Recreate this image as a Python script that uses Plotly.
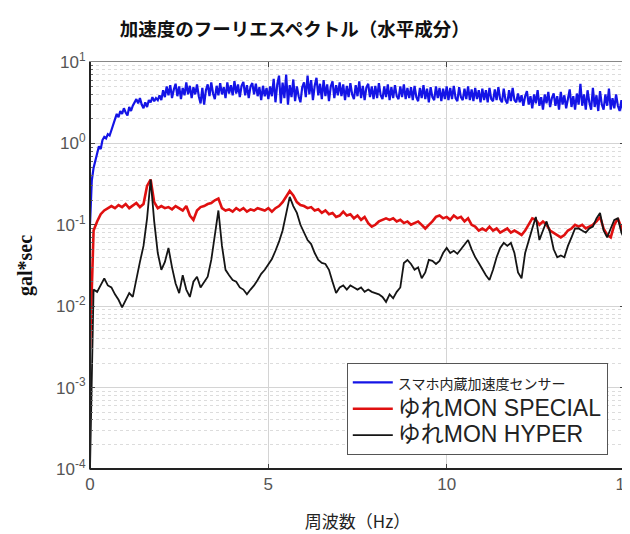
import numpy as np
import plotly.graph_objects as go

# Frequency axes (Hz)
freq_blue = [round(i * 0.05, 2) for i in range(301)]
freq_mon = [round(i * 0.1, 1) for i in range(151)]

# スマホ内蔵加速度センサー (gal*sec)
smartphone = [
    0.1, 0.35, 0.5, 0.62, 0.75, 0.92, 0.85, 1.1, 1.2, 1.15, 1.3, 1.25, 1.45, 1.7, 2.0, 2.3, 2.1, 2.5, 2.3, 2.7,
    2.4, 2.2, 2.8, 2.5, 2.9, 3.2, 3.5, 3.1, 3.6, 3.0, 2.7, 3.2, 2.8, 3.4, 3.2, 3.7, 3.3, 3.6, 3.4, 3.9,
    3.4, 4.5, 3.7, 5.0, 3.9, 5.2, 3.6, 4.6, 5.4, 3.8, 5.0, 3.5, 4.8, 3.9, 5.6, 4.0, 5.1, 3.6, 4.9, 4.0,
    5.3, 3.8, 3.1, 4.8, 3.0, 4.5, 5.3, 3.8, 5.6, 4.1, 3.5, 5.1, 3.9, 5.5, 4.0, 4.9, 3.6, 5.6, 4.1, 5.2,
    3.9, 5.8, 4.1, 5.3, 3.7, 5.1, 5.7, 3.9, 5.2, 3.6, 5.0, 5.5, 4.0, 5.4, 3.8, 4.9, 3.4, 5.1, 3.8, 4.8,
    3.5, 5.0, 3.8, 6.2, 3.2, 5.3, 6.8, 3.1, 5.6, 3.6, 7.0, 3.0, 5.2, 3.7, 6.1, 3.3, 5.0, 3.8, 3.2, 4.9,
    5.6, 3.7, 6.8, 4.0, 6.0, 3.4, 5.1, 6.4, 3.9, 5.4, 3.5, 6.0, 3.8, 5.3, 3.3, 5.0, 5.8, 3.6, 5.2, 3.9,
    5.6, 3.8, 5.3, 3.4, 5.1, 3.7, 5.5, 4.0, 3.5, 5.2, 3.8, 5.8, 3.6, 5.1, 3.4, 4.9, 5.4, 3.7, 5.0, 3.5,
    5.1, 3.6, 5.5, 3.9, 3.5, 5.0, 3.7, 5.3, 3.4, 4.9, 3.6, 5.2, 3.8, 3.5, 5.0, 3.7, 5.3, 3.5, 4.8, 3.6,
    4.9, 3.4, 5.1, 3.7, 3.3, 4.8, 3.6, 5.2, 3.5, 4.7, 3.2, 4.9, 3.7, 3.4, 5.0, 3.6, 4.8, 3.3, 4.7, 3.5,
    5.0, 3.4, 4.8, 3.5, 5.1, 3.6, 3.3, 4.9, 3.7, 3.4, 4.7, 3.5, 5.0, 3.4, 4.6, 3.3, 4.8, 3.5, 4.5, 3.2,
    4.7, 3.4, 4.5, 3.2, 4.8, 3.5, 3.3, 4.6, 3.4, 4.9, 3.5, 3.2, 4.7, 3.4, 3.1, 4.5, 3.3, 4.8, 3.4, 3.2,
    4.1, 3.2, 3.9, 2.9, 3.8, 4.4, 3.0, 3.8, 2.7, 4.0, 3.1, 4.5, 2.9, 3.7, 2.6, 4.0, 3.1, 4.3, 2.8, 3.6,
    4.1, 2.9, 3.8, 2.6, 4.3, 3.0, 3.9, 2.7, 3.6, 4.6, 2.8, 3.8, 2.6, 4.1, 3.0, 5.4, 2.9, 4.0, 2.6, 4.5,
    3.2, 2.6, 4.8, 2.8, 3.9, 2.5, 4.4, 3.0, 2.6, 4.0, 2.9, 4.7, 2.6, 3.6, 2.7, 4.0, 2.9, 2.5, 3.4, 2.4,
    2.3,
]

# ゆれMON SPECIAL (gal*sec)
special = [
    0.003, 0.085, 0.11, 0.135, 0.15, 0.16, 0.17, 0.16, 0.175, 0.165,
    0.18, 0.16, 0.17, 0.185, 0.165, 0.18, 0.3, 0.36, 0.19, 0.16,
    0.17, 0.16, 0.165, 0.155, 0.17, 0.16, 0.15, 0.17, 0.13, 0.115,
    0.15, 0.165, 0.17, 0.18, 0.185, 0.2, 0.21, 0.16, 0.15, 0.155,
    0.145, 0.16, 0.15, 0.16, 0.145, 0.155, 0.15, 0.16, 0.155, 0.15,
    0.16, 0.145, 0.16, 0.17, 0.19, 0.22, 0.26, 0.23, 0.19, 0.175,
    0.17, 0.16, 0.165, 0.15, 0.155, 0.14, 0.15, 0.135, 0.14, 0.125,
    0.13, 0.145, 0.13, 0.135, 0.12, 0.13, 0.115, 0.125, 0.105, 0.095,
    0.1, 0.11, 0.115, 0.12, 0.115, 0.12, 0.11, 0.115, 0.105, 0.11,
    0.1, 0.105, 0.11, 0.1, 0.09, 0.1, 0.11, 0.125, 0.13, 0.12,
    0.125, 0.115, 0.13, 0.12, 0.125, 0.11, 0.12, 0.1, 0.095, 0.085,
    0.09, 0.085, 0.095, 0.085, 0.09, 0.08, 0.085, 0.09, 0.08, 0.085,
    0.08, 0.075, 0.085, 0.1, 0.12, 0.115, 0.1, 0.11, 0.1, 0.085,
    0.08, 0.075, 0.07, 0.075, 0.085, 0.09, 0.1, 0.095, 0.1, 0.09,
    0.095, 0.1, 0.11, 0.125, 0.09, 0.075, 0.07, 0.1, 0.12, 0.09,
    0.07,
]

# ゆれMON HYPER (gal*sec)
hyper = [
    0.0001, 0.016, 0.015, 0.018, 0.022, 0.018, 0.017, 0.014, 0.012, 0.0097,
    0.012, 0.0145, 0.013, 0.022, 0.035, 0.055, 0.12, 0.36, 0.11, 0.045,
    0.028, 0.035, 0.052, 0.03, 0.019, 0.0145, 0.024, 0.016, 0.013, 0.02,
    0.023, 0.017, 0.02, 0.023, 0.037, 0.08, 0.15, 0.055, 0.028, 0.024,
    0.021, 0.02, 0.017, 0.016, 0.014, 0.016, 0.018, 0.021, 0.025, 0.028,
    0.033, 0.038, 0.048, 0.062, 0.085, 0.14, 0.22, 0.17, 0.14, 0.1,
    0.08, 0.065, 0.058, 0.045, 0.037, 0.034, 0.033, 0.028, 0.02, 0.0145,
    0.017, 0.018, 0.016, 0.018, 0.017, 0.016, 0.017, 0.015, 0.016, 0.015,
    0.0145, 0.014, 0.013, 0.0113, 0.014, 0.0125, 0.015, 0.017, 0.034, 0.037,
    0.033, 0.028, 0.03, 0.022, 0.026, 0.037, 0.036, 0.033, 0.036, 0.045,
    0.052, 0.045, 0.048, 0.044, 0.05, 0.058, 0.065, 0.05, 0.04, 0.034,
    0.028, 0.024, 0.021, 0.028, 0.04, 0.052, 0.06, 0.055, 0.06, 0.045,
    0.026, 0.022, 0.045, 0.065, 0.09, 0.125, 0.065, 0.085, 0.11, 0.08,
    0.05, 0.04, 0.042, 0.04, 0.055, 0.07, 0.09, 0.09, 0.085, 0.08,
    0.09, 0.095, 0.12, 0.14, 0.085, 0.07, 0.09, 0.115, 0.12, 0.08,
    0.065,
]

x_ticks = [0, 5, 10, 15]
y_ticks = [1e-4, 1e-3, 1e-2, 1e-1, 1e0, 1e1]
y_ticktext = ["10<sup>-4</sup>", "10<sup>-3</sup>", "10<sup>-2</sup>",
              "10<sup>-1</sup>", "10<sup>0</sup>", "10<sup>1</sup>"]

fig = go.Figure()
fig.add_trace(go.Scatter(
    x=freq_blue, y=smartphone, mode="lines",
    name='<span style="font-size:14px">スマホ内蔵加速度センサー</span>',
    line=dict(color="#1414e6", width=2.2),
))
fig.add_trace(go.Scatter(
    x=freq_mon, y=special, mode="lines",
    name='<span style="font-size:23px">ゆれMON SPECIAL</span>',
    line=dict(color="#e01010", width=2.6),
))
fig.add_trace(go.Scatter(
    x=freq_mon, y=hyper, mode="lines",
    name='<span style="font-size:23px">ゆれMON HYPER</span>',
    line=dict(color="#151515", width=1.8),
))

tick_font = dict(family="Liberation Sans, Arial, sans-serif", size=17, color="#555555")

fig.update_layout(
    width=622, height=526,
    margin=dict(l=82, r=5, t=54, b=65, autoexpand=False),
    paper_bgcolor="white", plot_bgcolor="white",
    title=dict(
        text="<b>加速度のフーリエスペクトル（水平成分）</b>",
        x=0.461, xanchor="center", y=0.96, yanchor="middle",
        font=dict(family="Noto Sans CJK JP", size=18.5, color="#111111"),
    ),
    legend=dict(
        x=0.48, y=0.26, xanchor="left", yanchor="top",
        bgcolor="white", bordercolor="#555555", borderwidth=1,
        font=dict(family="Liberation Sans, Noto Sans CJK JP, sans-serif", size=18, color="#222222"),
        itemwidth=40, tracegroupgap=0,
    ),
    xaxis=dict(
        range=[0, 15], tickvals=x_ticks, ticktext=[str(v) for v in x_ticks],
        automargin=False, ticklabeloverflow="allow",
        showgrid=True, gridcolor="#d4d4d4", gridwidth=1,
        showline=True, linecolor="#888888", linewidth=1, mirror="ticks",
        ticks="inside", ticklen=5, tickcolor="#444444",
        tickfont=tick_font, zeroline=False,
        title=dict(text="周波数（Hz）", standoff=22,
                   font=dict(family="Noto Sans CJK JP", size=17, color="#222222")),
    ),
    yaxis=dict(
        type="log", range=[-4, 1], tickvals=y_ticks, ticktext=y_ticktext,
        automargin=False,
        showgrid=True, gridcolor="#d4d4d4", gridwidth=1,
        showline=True, linecolor="#888888", linewidth=1, mirror="ticks",
        ticks="inside", ticklen=5, tickcolor="#444444",
        tickfont=tick_font, zeroline=False,
        minor=dict(dtick="D1", showgrid=True, gridcolor="#dcdcdc", griddash="dot",
                   ticks="inside", ticklen=3, tickcolor="#666666"),
        title=dict(text="<b>gal*sec</b>", standoff=18,
                   font=dict(family="Liberation Serif, DejaVu Serif, serif", size=20, color="#111111")),
    ),
    shapes=[
        dict(type="line", xref="paper", yref="paper", x0=0, x1=0, y0=0, y1=1,
             line=dict(color="#222222", width=2)),
        dict(type="line", xref="paper", yref="paper", x0=0, x1=1, y0=0, y1=0,
             line=dict(color="#222222", width=2)),
    ],
)

fig.write_html("out.html")
